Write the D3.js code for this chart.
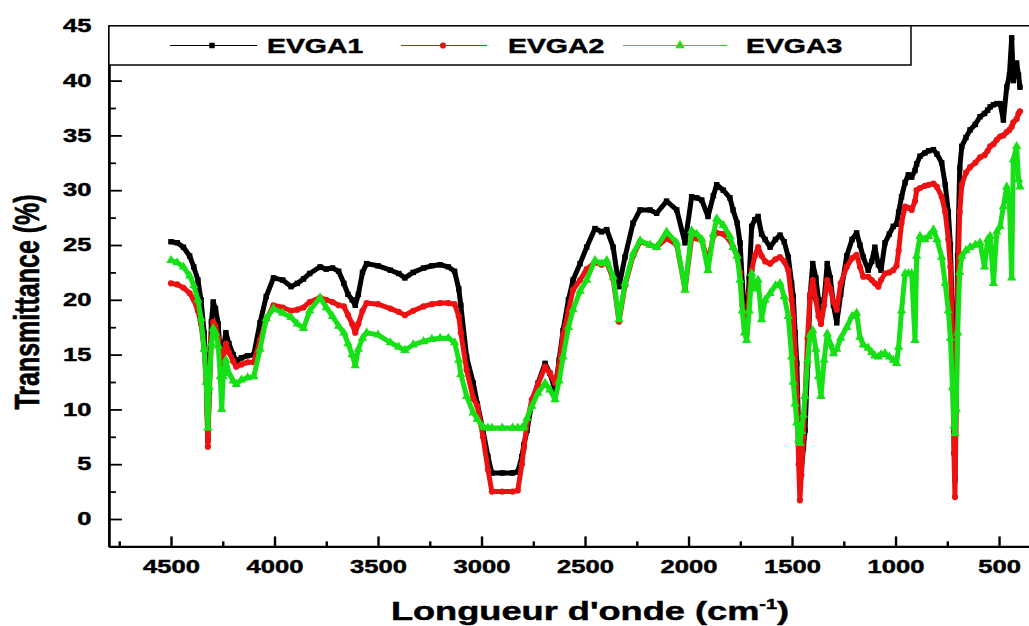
<!DOCTYPE html>
<html><head><meta charset="utf-8">
<script src="https://cdn.jsdelivr.net/npm/d3@7"></script>
<style>
body{margin:0;background:#fff}
svg{display:block}
text{font-family:"Liberation Sans",Arial,sans-serif;font-weight:bold;stroke:#000;stroke-width:0.45px}
</style>
</head><body>
<svg id="c" width="1029" height="626"></svg>
<script>
// ---- data ----
const wavenumbers = [4500,4470,4440,4410,4390,4370,4355,4340,4330,4322,4315,4305,4296,4285,4272,4262,4255,4248,4235,4220,4200,4185,4160,4130,4100,4070,4040,4005,3960,3920,3890,3860,3830,3780,3750,3720,3690,3665,3645,3625,3610,3595,3575,3555,3500,3440,3400,3370,3330,3280,3240,3200,3160,3130,3110,3100,3072,3040,3020,2993,2969,2950,2900,2850,2825,2805,2795,2780,2757,2727,2693,2670,2645,2625,2606,2580,2558,2524,2492,2452,2420,2395,2364,2336,2307,2268,2234,2186,2154,2106,2057,2017,1985,1960,1936,1906,1880,1864,1832,1800,1785,1765,1751,1740,1730,1719,1707,1695,1680,1664,1647,1630,1606,1580,1558,1538,1518,1502,1494,1485,1477,1468,1462,1455,1445,1437,1425,1413,1400,1385,1372,1360,1345,1330,1315,1300,1284,1265,1236,1210,1188,1172,1156,1132,1115,1100,1083,1070,1051,1030,1011,995,985,971,954,938,922,906,898,882,858,840,817,800,777,760,745,735,725,718,713,707,700,690,680,660,640,615,592,570,555,543,527,511,495,479,463,450,439,431,415,406,399];
const evga1 = [25.3,25.2,24.8,24.0,23.0,21.8,20.0,17.0,13.5,7.2,12.0,18.0,19.8,19.2,17.8,15.0,12.0,15.5,17.0,16.0,15.0,14.4,14.7,14.9,15.0,17.9,20.3,22.0,21.8,21.2,21.5,21.9,22.4,23.0,22.8,22.9,22.6,21.5,20.5,20.0,19.5,20.5,22.5,23.3,23.1,22.7,22.4,22.0,22.5,22.9,23.1,23.2,23.0,22.6,21.0,19.5,14.8,12.4,10.5,8.1,5.7,4.2,4.2,4.2,4.3,5.7,6.8,8.1,10.6,12.4,14.2,13.3,11.8,14.5,17.2,20.0,21.8,23.3,24.8,26.5,26.2,26.4,24.8,21.2,23.9,27.0,28.2,28.2,27.9,29.0,28.2,25.2,29.4,29.3,29.1,27.6,29.5,30.5,30.0,29.3,28.2,27.0,25.2,21.5,19.0,17.5,22.0,26.7,27.3,27.6,26.0,25.5,24.8,25.5,25.9,25.3,23.9,21.5,20.3,17.0,14.2,8.0,3.3,4.5,6.5,8.1,14.0,20.3,23.3,22.0,20.0,18.0,20.0,23.3,22.0,19.5,17.9,20.5,24.0,25.5,26.1,25.0,23.9,22.7,23.5,24.8,23.2,22.7,25.2,26.0,26.7,26.9,28.0,29.4,30.7,31.4,31.2,31.8,32.4,33.1,33.4,33.6,33.7,33.3,32.5,30.5,28.0,25.0,18.0,8.0,3.6,12.0,24.0,32.0,34.0,34.8,35.5,36.0,36.7,37.0,37.3,37.6,37.8,37.9,37.9,36.4,39.4,40.5,43.9,40.0,41.6,40.5,39.4];
const evga2 = [21.5,21.4,21.1,20.6,20.0,19.0,17.8,15.5,12.5,6.6,11.5,16.5,18.0,17.6,16.5,14.5,12.5,15.0,16.0,15.2,14.4,13.9,14.1,14.3,14.3,16.3,18.2,19.5,19.3,19.0,19.1,19.3,19.8,20.2,20.0,19.8,19.5,19.4,18.6,17.8,17.0,17.8,19.0,19.7,19.6,19.2,18.9,18.6,19.0,19.4,19.6,19.7,19.7,19.6,18.5,17.0,13.6,11.0,10.3,7.5,4.5,2.5,2.5,2.5,2.6,5.0,6.5,8.8,10.9,12.3,13.9,13.3,12.4,14.0,16.8,19.0,20.9,21.8,22.8,23.4,23.2,23.4,21.9,18.0,21.3,24.0,25.3,25.0,24.8,25.6,25.0,21.0,25.6,25.6,25.4,23.5,25.8,26.1,26.0,25.4,24.8,24.0,22.5,19.5,18.0,17.0,20.5,22.7,24.0,24.8,24.0,23.5,23.3,23.7,23.9,23.5,22.7,20.0,18.5,15.0,11.2,5.0,1.7,4.0,7.5,11.2,16.5,20.5,21.8,20.0,18.5,17.8,19.5,21.8,21.0,19.8,19.1,21.5,23.0,23.8,24.1,23.0,22.1,22.1,21.8,21.5,21.2,21.8,22.4,22.5,22.7,23.1,24.5,27.0,28.5,28.4,28.2,29.0,30.0,30.2,30.4,30.5,30.6,30.3,29.4,28.0,25.5,23.0,16.0,6.0,2.0,10.0,21.0,28.0,30.5,31.6,32.1,32.5,33.0,33.2,33.6,34.0,34.2,34.6,34.9,35.0,35.3,35.5,35.8,36.2,36.5,37.0,37.2];
const evga3 = [23.6,23.4,23.0,22.2,21.3,20.0,18.3,15.5,12.5,8.3,12.0,16.0,17.4,17.0,15.8,13.0,10.0,13.0,14.5,13.3,12.6,12.3,12.7,12.9,13.0,15.5,18.3,19.2,18.8,18.4,17.8,17.4,19.0,20.2,19.3,18.5,17.6,17.0,16.0,15.0,14.0,15.5,16.5,17.0,16.8,16.1,15.7,15.4,15.9,16.2,16.4,16.5,16.5,16.1,14.5,13.2,11.2,9.7,9.1,8.4,8.3,8.3,8.3,8.3,8.3,8.3,8.4,9.2,10.3,11.5,12.4,11.8,10.9,12.6,14.8,17.5,19.1,20.8,21.8,23.6,23.3,23.6,22.1,18.2,21.5,24.2,25.4,25.0,24.8,26.2,25.2,20.9,26.3,26.0,25.5,22.7,26.0,27.4,26.8,25.8,24.8,24.0,21.8,19.0,17.0,16.3,19.0,22.4,21.0,21.8,18.2,20.0,20.6,21.3,21.5,20.3,18.5,14.8,12.5,10.5,8.8,7.2,6.9,8.0,9.5,11.2,14.5,16.8,17.2,15.5,13.0,11.2,14.5,16.9,16.0,15.1,15.5,16.5,17.5,18.5,18.8,16.6,15.9,15.6,15.2,14.9,14.8,15.0,15.1,14.8,14.5,14.2,15.7,19.0,22.4,22.4,22.4,16.3,24.0,25.8,25.5,25.8,26.4,25.5,23.9,21.5,19.0,16.5,12.0,8.5,7.8,10.0,17.0,22.5,24.0,24.5,24.8,25.0,25.2,23.0,25.5,25.8,21.5,26.2,26.7,28.5,30.3,29.0,22.0,32.8,34.0,31.0,30.3];
const seriesNames = ["EVGA1","EVGA2","EVGA3"];
const xTicks = [4500,4000,3500,3000,2500,2000,1500,1000,500];
const xMinorTicks = [4750,4250,3750,3250,2750,2250,1750,1250,750];
const yTicks = [0,5,10,15,20,25,30,35,40,45];
const yMinorTicks = [-2.5,2.5,7.5,12.5,17.5,22.5,27.5,32.5,37.5,42.5];
const xTitle = "Longueur d'onde (cm";
const yTitle = "Transmittance (%)";

// ---- drawing ----
const SX = 1.42; // horizontal stretch of the original figure's text
const colors = ["#000000","#ee1111","#16e016"];
const symbols = [d3.symbolSquare, d3.symbolCircle, d3.symbolTriangle];
const symSize = [30, 30, 38];

const svg = d3.select("#c");
const x = d3.scaleLinear().domain([4800, 350]).range([108.9, 1030.1]);
const y = d3.scaleLinear().domain([-2.5, 45]).range([546.4, 25.8]);

const allSeries = [evga1, evga2, evga3];
const line = d3.line().x(d => x(d[0])).y(d => y(d[1]));

allSeries.forEach((vals, k) => {
  const pts = wavenumbers.map((w, i) => [w, vals[i]]);
  const g = svg.append("g");
  g.append("path").datum(pts).attr("d", line)
    .attr("fill", "none").attr("stroke", colors[k])
    .attr("stroke-width", 5).attr("stroke-linejoin", "round").attr("stroke-linecap","round");
  g.selectAll("path.m").data(pts).join("path").attr("class","m")
    .attr("transform", d => `translate(${x(d[0])},${y(d[1])})`)
    .attr("d", d3.symbol().type(symbols[k]).size(symSize[k]))
    .attr("fill", colors[k]);
});

// x axis
const gxm = svg.append("g").attr("transform", `translate(0,${y(-2.5)})`)
  .call(d3.axisBottom(x).tickValues(xMinorTicks).tickSize(-5).tickSizeOuter(0).tickFormat(""));
gxm.select(".domain").remove();
gxm.selectAll("line").attr("stroke-width", 2.4);

const gx = svg.append("g").attr("transform", `translate(0,${y(-2.5)})`)
  .call(d3.axisBottom(x).tickValues(xTicks).tickSize(-10).tickSizeOuter(0).tickPadding(13.5).tickFormat(d3.format("d")));
gx.select(".domain").attr("stroke-width", 2.2);
gx.selectAll(".tick line").attr("stroke-width", 2.4);
gx.selectAll("text").attr("font-size", 18).attr("fill", "#000").attr("transform", `scale(${SX},1)`);

// y axis
const gym = svg.append("g").attr("transform", `translate(${x(4800)},0)`)
  .call(d3.axisLeft(y).tickValues(yMinorTicks).tickSize(-7).tickSizeOuter(0).tickFormat(""));
gym.select(".domain").remove();
gym.selectAll("line").attr("stroke-width", 1.8);

const gy = svg.append("g").attr("transform", `translate(${x(4800)},0)`)
  .call(d3.axisLeft(y).tickValues(yTicks).tickSize(-13).tickSizeOuter(0).tickPadding(12.3).tickFormat(d3.format("d")));
gy.select(".domain").attr("stroke-width", 2.8);
gy.selectAll(".tick line").attr("stroke-width", 1.8);
gy.selectAll("text").attr("font-size", 18).attr("fill", "#000").attr("transform", `scale(${SX},1)`);

// top frame line
svg.append("line").attr("x1", x(4800)).attr("x2", 1029).attr("y1", y(45)).attr("y2", y(45))
  .attr("stroke", "#000").attr("stroke-width", 1.6);

// legend
const lg = svg.append("g");
lg.append("rect").attr("x", x(4800)).attr("y", y(45)).attr("width", 911 - x(4800)).attr("height", 65 - y(45))
  .attr("fill", "#fff").attr("stroke", "#000").attr("stroke-width", 1.5);
const legendPos = [{l1:170,l2:257,m:212,t:267},{l1:401,l2:487,m:443,t:508},{l1:623,l2:727,m:680,t:746}];
const ly = 45.5;
seriesNames.forEach((name, k) => {
  const p = legendPos[k];
  lg.append("line").attr("x1", p.l1).attr("x2", p.l2).attr("y1", ly).attr("y2", ly)
    .attr("stroke", colors[k]).attr("stroke-width", 1.2);
  lg.append("path").attr("transform", `translate(${p.m},${ly})`)
    .attr("d", d3.symbol().type(symbols[k]).size(symSize[k])).attr("fill", colors[k]);
  lg.append("text").attr("transform", `translate(${p.t},${ly + 7.2})scale(${SX},1)`)
    .attr("font-size", 20).attr("fill", "#000").text(name);
});

// axis titles
const xt = svg.append("text").attr("transform", `translate(590,620)scale(${SX},1)`)
  .attr("text-anchor", "middle").attr("font-size", 25.5).attr("fill", "#000");
xt.append("tspan").text(xTitle);
xt.append("tspan").attr("font-size", 14).attr("dy", -11).text("-1");
xt.append("tspan").attr("dy", 11).text(")");

svg.append("text").attr("transform", `translate(39,302)scale(${SX},1)rotate(-90)`)
  .attr("text-anchor", "middle").attr("font-size", 25).attr("fill", "#000").text(yTitle);
</script>
</body></html>
